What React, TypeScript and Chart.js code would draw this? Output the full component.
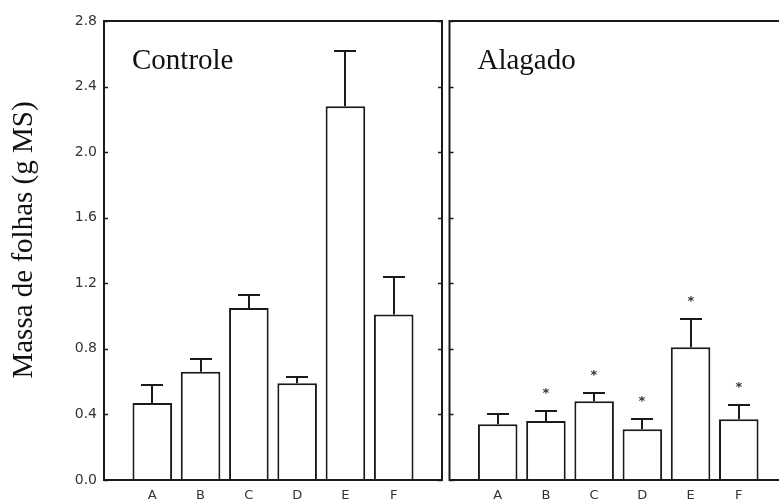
import React, { useEffect, useRef } from 'react';
import { Chart, registerables } from 'chart.js';

Chart.register(...registerables);

// ---- data ----
const categories = ['A', 'B', 'C', 'D', 'E', 'F'];
const yTickStep = 0.4;
const yMax = 2.8;

const controleMean = [0.47, 0.66, 1.05, 0.59, 2.28, 1.01];
const controleErr = [0.11, 0.08, 0.08, 0.04, 0.34, 0.23];
const controleSignificant = [false, false, false, false, false, false];

const alagadoMean = [0.34, 0.36, 0.48, 0.31, 0.81, 0.37];
const alagadoErr = [0.06, 0.06, 0.05, 0.06, 0.17, 0.09];
const alagadoSignificant = [false, true, true, true, true, true];

const panelTitles = ['Controle', 'Alagado'];
const yAxisTitle = 'Massa de folhas (g MS)';

const INK = '#1a1a1a';
const SERIF = '"Liberation Serif", "Times New Roman", serif';
const SANS = '"DejaVu Sans", Verdana, sans-serif';

type Panel = {
  title: string;
  means: number[];
  errs: number[];
  sig: boolean[];
  showY: boolean;
  padLeft: number;
  padRight: number;
};

function makeConfig(p: Panel): any {
  const decor = {
    id: 'panelDecor',
    afterDraw(chart: any) {
      const { ctx, chartArea } = chart;
      const ys = chart.scales.y;
      const { left, right, top, bottom } = chartArea;
      ctx.save();
      ctx.strokeStyle = INK;
      ctx.fillStyle = INK;
      ctx.lineWidth = 2;

      // error bars (upper half only)
      const meta = chart.getDatasetMeta(0);
      meta.data.forEach((el: any, i: number) => {
        const yTop = Math.round(ys.getPixelForValue(p.means[i] + p.errs[i]));
        const x = Math.round(el.x);
        ctx.beginPath();
        ctx.moveTo(x, el.y);
        ctx.lineTo(x, yTop);
        ctx.moveTo(x - 11, yTop);
        ctx.lineTo(x + 11, yTop);
        ctx.stroke();
        if (p.sig[i]) {
          ctx.font = `bold 13px ${SANS}`;
          ctx.textAlign = 'center';
          ctx.textBaseline = 'alphabetic';
          ctx.fillStyle = '#333';
          ctx.fillText('*', x, yTop - 14);
          ctx.fillStyle = INK;
        }
      });

      // frame
      ctx.lineWidth = 2;
      ctx.strokeRect(left, top, right - left, bottom - top);

      // inward tick marks on left and right frames
      ctx.lineWidth = 1.5;
      ys.ticks.forEach((t: any) => {
        const y = Math.round(ys.getPixelForValue(t.value)) + 0.5;
        ctx.beginPath();
        ctx.moveTo(left, y);
        ctx.lineTo(left + 4, y);
        ctx.moveTo(right, y);
        ctx.lineTo(right - 4, y);
        ctx.stroke();
      });

      // panel label
      ctx.font = `29px ${SERIF}`;
      ctx.textAlign = 'left';
      ctx.textBaseline = 'alphabetic';
      ctx.fillStyle = '#111';
      ctx.fillText(p.title, left + 28, top + 48);

      // y axis title
      if (p.showY) {
        ctx.save();
        ctx.translate(24, 240);
        ctx.rotate(-Math.PI / 2);
        ctx.textAlign = 'center';
        ctx.textBaseline = 'middle';
        ctx.font = `29px ${SERIF}`;
        ctx.fillText(yAxisTitle, 0, 0);
        ctx.restore();
      }
      ctx.restore();
    },
  };

  return {
    type: 'bar',
    data: {
      datasets: [
        {
          data: p.means.map((v, i) => ({ x: i + 1, y: v })),
          backgroundColor: '#ffffff',
          borderColor: INK,
          borderWidth: 2,
          barPercentage: 0.82,
          categoryPercentage: 1,
        },
      ],
    },
    options: {
      animation: false,
      responsive: false,
      maintainAspectRatio: false,
      devicePixelRatio: 1,
      layout: { padding: { top: 21, right: p.padRight, bottom: 0, left: p.padLeft } },
      plugins: { legend: { display: false }, tooltip: { enabled: false }, title: { display: false } },
      scales: {
        x: {
          type: 'linear',
          offset: false,
          min: 0,
          max: categories.length + 1,
          grid: { display: false, drawTicks: false },
          border: { display: false },
          ticks: {
            stepSize: 1,
            autoSkip: false,
            maxRotation: 0,
            padding: 8,
            color: '#333',
            font: { family: SANS, size: 13 },
            callback: (v: number) => (Number.isInteger(v) && categories[v - 1]) || '',
          },
          afterFit: (s: any) => {
            s.height = 21;
            s.paddingLeft = 0;
            s.paddingRight = 0;
          },
        },
        y: {
          display: p.showY,
          min: 0,
          max: yMax,
          grid: { display: false, drawTicks: false },
          border: { display: false },
          ticks: {
            stepSize: yTickStep,
            padding: 7,
            color: '#333',
            font: { family: SANS, size: 14 },
            callback: (v: number) => Number(v).toFixed(1),
          },
          afterFit: (s: any) => {
            s.width = p.showY ? 104 : 0;
            s.paddingTop = 0;
            s.paddingBottom = 0;
          },
        },
      },
    },
    plugins: [decor],
  };
}

function PanelChart({ panel, left, width }: { panel: Panel; left: number; width: number }) {
  const ref = useRef<HTMLCanvasElement | null>(null);
  useEffect(() => {
    if (!ref.current) return;
    const chart = new Chart(ref.current, makeConfig(panel));
    return () => chart.destroy();
  }, []);
  return (
    <canvas
      ref={ref}
      width={width}
      height={501}
      style={{ position: 'absolute', left, top: 0, width, height: 501 }}
    />
  );
}

export default function App() {
  const controle: Panel = {
    title: panelTitles[0],
    means: controleMean,
    errs: controleErr,
    sig: controleSignificant,
    showY: true,
    padLeft: 0,
    padRight: 4,
  };
  const alagado: Panel = {
    title: panelTitles[1],
    means: alagadoMean,
    errs: alagadoErr,
    sig: alagadoSignificant,
    showY: false,
    padLeft: 3.5,
    padRight: 4,
  };
  return (
    <div
      style={{
        position: 'absolute',
        left: 0,
        top: 0,
        width: 779,
        height: 501,
        overflow: 'hidden',
        background: '#fff',
      }}
    >
      <PanelChart panel={controle} left={0} width={446} />
      <PanelChart panel={alagado} left={446} width={345} />
    </div>
  );
}
